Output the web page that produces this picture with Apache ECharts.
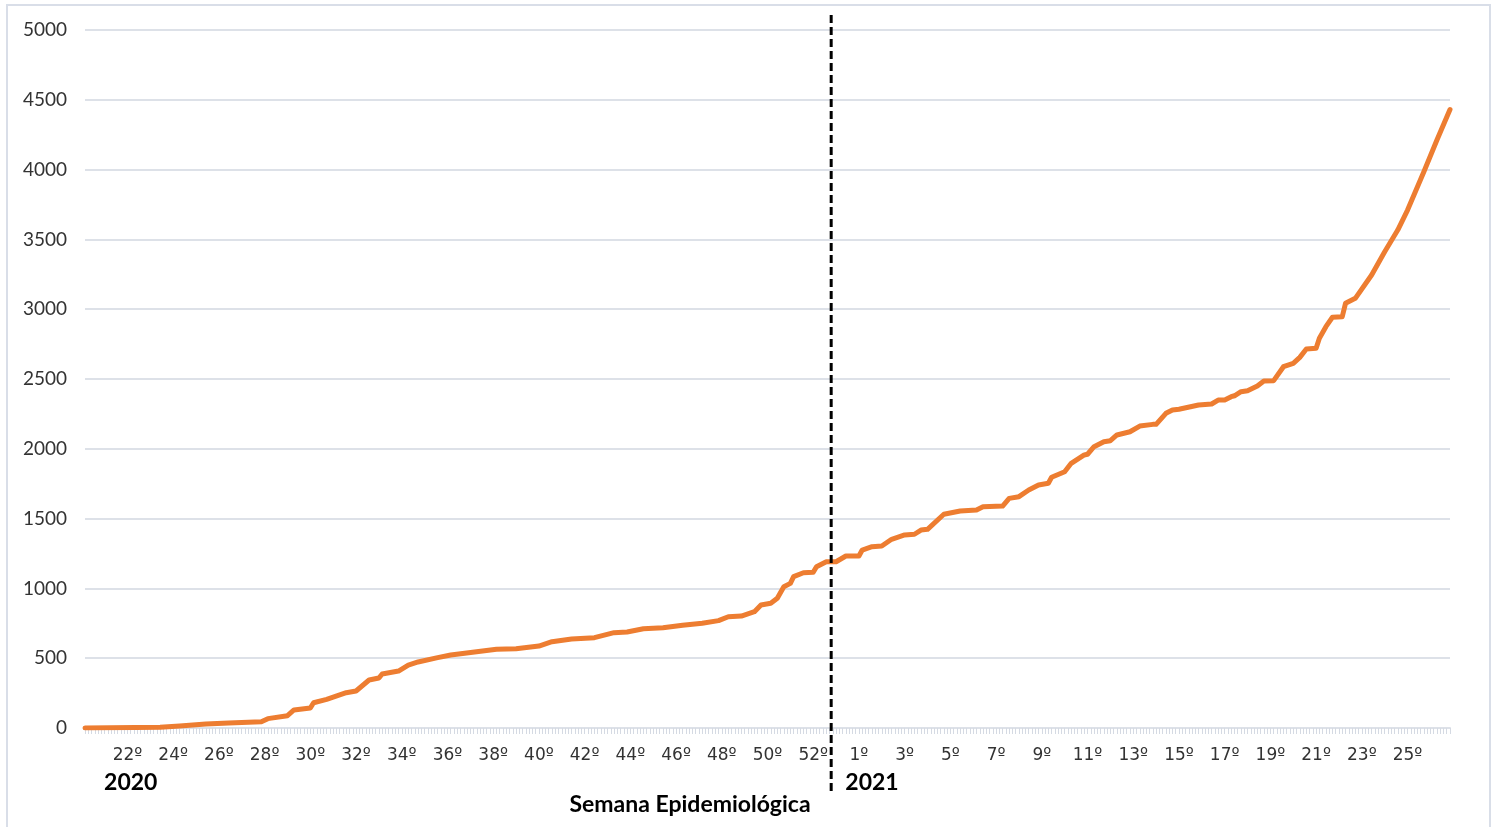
<!DOCTYPE html>
<html>
<head>
<meta charset="utf-8">
<script src="https://cdn.jsdelivr.net/npm/echarts@6/dist/echarts.min.js"></script>
<style>html,body{margin:0;padding:0;background:#fff}#c{width:1495px;height:827px}</style>
</head>
<body>
<div id="c"></div>
<script>
// Day index (0 = first day shown) and cumulative value
const days = [0,23,29,37,44,54,56,62,64,69,70,74,80,83,87,90,91,96,99,102,108,112,126,132,139,143,149,156,162,166,171,177,183,189,194,197,201,205,207,210,212,214,216,217,220,223,224,227,230,233,237,238,241,244,247,251,254,256,258,263,268,273,275,281,283,286,289,292,295,296,300,302,306,307,309,312,314,316,320,323,327,328,331,333,335,341,345,347,349,351,352,354,356,359,361,364,367,370,372,374,377,378,380,382,385,386,389,394,398,402,405,410,414,418];
const values = [0,5,14,28,35,45,67,88,129,143,181,205,253,265,344,358,387,408,451,473,504,523,564,568,587,618,637,647,683,688,711,718,736,750,769,797,802,833,881,893,929,1012,1036,1084,1112,1115,1155,1191,1191,1232,1232,1275,1299,1304,1352,1383,1388,1418,1423,1531,1554,1562,1585,1590,1645,1657,1705,1741,1753,1796,1836,1896,1956,1961,2015,2051,2058,2099,2122,2163,2175,2175,2254,2278,2283,2314,2321,2349,2349,2373,2380,2409,2416,2450,2486,2488,2588,2612,2655,2715,2720,2792,2875,2942,2946,3042,3078,3245,3412,3567,3710,3985,4212,4430];
// Week tick labels (every second epidemiological week)
const weekLabels = ['22º','24º','26º','28º','30º','32º','34º','36º','38º','40º','42º','44º','46º','48º','50º','52º','1º','3º','5º','7º','9º','11º','13º','15º','17º','19º','21º','23º','25º'];
const firstLabelDay = 13;
const lastDay = 418;
const yearBoundaryDay = 228.5;
const yearLabels = [{text:'2020', day:14}, {text:'2021', day:241}];
const xTitle = 'Semana Epidemiológica';

(function () {
const labelDays = weekLabels.map((_, i) => firstLabelDay + 14 * i);
const tickDays = [];
for (let d = 0; d <= lastDay; d++) tickDays.push(d);
const seriesData = days.map((d, i) => [d, values[i]]);

const FONT = 'Lato';
const chart = echarts.init(document.getElementById('c'), null, {renderer: 'canvas'});
chart.setOption({
  animation: false,
  backgroundColor: '#fff',
  grid: {left: 85, right: 45, top: 30, bottom: 99},
  xAxis: {
    type: 'value', min: 0, max: lastDay,
    splitLine: {show: false},
    axisLine: {show: true, lineStyle: {color: '#dde1e8', width: 2}},
    axisTick: {show: true, customValues: tickDays, length: 6, lineStyle: {color: '#d5dae3', width: 1}},
    axisLabel: {
      show: true, customValues: labelDays, margin: 19,
      fontFamily: 'DejaVu Sans', fontSize: 17, color: '#333',
      formatter: v => { const i = labelDays.indexOf(Math.round(v)); return i >= 0 ? weekLabels[i] : ''; }
    }
  },
  yAxis: {
    type: 'value', min: 0, max: 5000, interval: 500,
    axisLine: {show: false}, axisTick: {show: false},
    splitLine: {show: true, lineStyle: {color: '#dde1e8', width: 2}},
    axisLabel: {fontFamily: FONT, fontSize: 19, color: '#333', margin: 18, formatter: v => String(v)}
  },
  series: [{
    type: 'line', data: seriesData, showSymbol: false,
    lineStyle: {color: '#ED7D31', width: 5, cap: 'round', join: 'round'},
    z: 3
  }]
});

const pTop = chart.convertToPixel({xAxisIndex: 0, yAxisIndex: 0}, [yearBoundaryDay, 5000]);
const pBot = chart.convertToPixel({xAxisIndex: 0, yAxisIndex: 0}, [yearBoundaryDay, 0]);
const graphics = [
  {type: 'rect', shape: {x: 7, y: 5, width: 1483, height: 840}, style: {fill: 'none', stroke: '#d9dee8', lineWidth: 2}, silent: true, z: 0},
  {type: 'line', shape: {x1: pTop[0], y1: pTop[1] - 15, x2: pBot[0], y2: pBot[1] + 67},
   style: {stroke: '#000', lineWidth: 3, lineDash: [8, 4]}, z: 10},
  {type: 'text', style: {text: xTitle, x: 690, y: 805, align: 'center', verticalAlign: 'middle',
     font: 'bold 23px ' + FONT, fill: '#000'}, z: 10}
];
yearLabels.forEach(yl => {
  const p = chart.convertToPixel({xAxisIndex: 0, yAxisIndex: 0}, [yl.day, 0]);
  graphics.push({type: 'text', style: {text: yl.text, x: p[0], y: p[1] + 55, align: 'center', verticalAlign: 'middle',
    font: 'bold 23px ' + FONT, fill: '#000'}, z: 10});
});
chart.setOption({graphic: graphics});
})();
</script>
</body>
</html>
